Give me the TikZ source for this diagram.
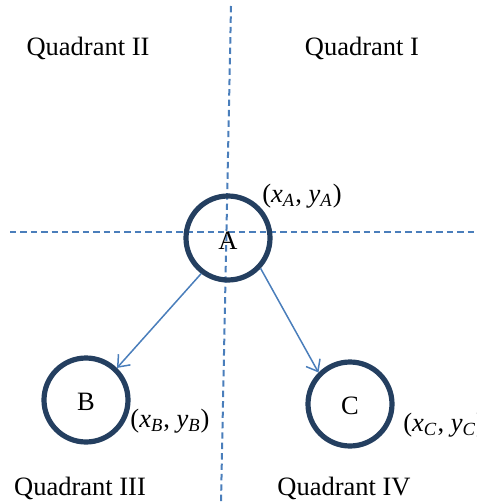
\documentclass[tikz,border=0pt]{standalone}
\usepackage{fontspec}
\setmainfont{Liberation Serif}
\usetikzlibrary{arrows.meta}
\definecolor{ringblue}{HTML}{243F60}
\definecolor{axisblue}{HTML}{4A7EBB}
\tikzset{
    quad axis/.style={
        axisblue, line width=1pt,
        dash pattern=on 3.2pt off 2pt
    },
    point circle/.style={
        circle, draw=ringblue, line width=2.6pt,
        minimum size=42pt, inner sep=0pt
    },
    move arrow/.style={
        axisblue, line width=0.75pt,
        -{Straight Barb[length=5pt,width=8pt]}
    }
}

\begin{document}
\begin{tikzpicture}[x=0.5pt,y=-0.5pt,font=\fontsize{13.25}{16}\selectfont]
            \useasboundingbox (0,0) rectangle (476,502);
            % axes
            \coordinate (top) at (231,6);
            \coordinate (bottom) at (221,502);
            \coordinate (left) at (10,232);
            \coordinate (right) at (476,232);
            \draw[quad axis] (top) -- (bottom);
            \draw[quad axis] (left) -- (right);
            % points
            \node[point circle] (A) at (228,238) {};
            \node[point circle] (B) at (86,400) {};
            \node[point circle] (C) at (350,404) {};
            \node (lblA) at (228,241) {A};
            \node (lblB) at (86,402) {B};
            \node (lblC) at (350,406) {C};
            \node (posA) at (302,196) {(\textit{x}\textsubscript{\textit{A}}, \textit{y}\textsubscript{\textit{A}})};
            \node (posB) at (170,421) {(\textit{x}\textsubscript{\textit{B}}, \textit{y}\textsubscript{\textit{B}})};
            \node[anchor=west,inner sep=0pt] (posC) at (403,425) {(\textit{x}\textsubscript{\textit{C}}, \textit{y}\textsubscript{\textit{C}})};
            \draw[move arrow] (A.233) -- (B.46);
            \draw[move arrow] (A.317) -- (C.135);
            % quadrants
            \node (q1) at (362,48) {Quadrant I};
            \node (q2) at (88,48) {Quadrant II};
            \node (q3) at (80,488) {Quadrant III};
            \node (q4) at (344,488) {Quadrant IV};
\end{tikzpicture}
\end{document}
